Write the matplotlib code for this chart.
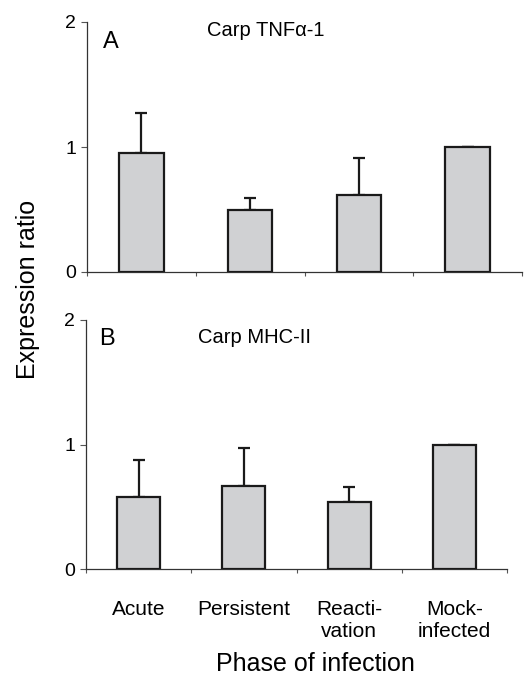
"""Carp TNFa-1 / MHC-II expression ratio by phase of infection."""
import numpy as np
import matplotlib; matplotlib.use("Agg")
import matplotlib.pyplot as plt

plt.rcParams["font.family"] = ["Liberation Sans", "DejaVu Sans"]

phases = ["Acute", "Persistent", "Reacti-\nvation", "Mock-\ninfected"]
tnf_mean = [0.95, 0.50, 0.62, 1.00]
tnf_err = [0.32, 0.09, 0.29, 0.0]
mhc_mean = [0.58, 0.67, 0.54, 1.00]
mhc_err = [0.295, 0.30, 0.12, 0.0]

fig = plt.figure(figsize=(5.28, 6.77), dpi=100)
ax_a = fig.add_axes([87/528, 1-272/677, 435/528, 250/677])
ax_b = fig.add_axes([86/528, 1-569/677, 421/528, 249/677])

x = np.arange(len(phases))
for ax, m, e in [(ax_a, tnf_mean, tnf_err), (ax_b, mhc_mean, mhc_err)]:
    ax.bar(x, m, width=0.41, color="#d0d1d3", edgecolor="#1a1a1a",
           linewidth=1.6, zorder=3)
    ax.errorbar(x, m, yerr=[np.zeros(len(m)), e], fmt="none",
                ecolor="#1a1a1a", elinewidth=1.6, capsize=4.3,
                capthick=1.6, zorder=2)
    ax.set_xlim(-0.5, 3.5); ax.set_ylim(0, 2)
    ax.set_yticks([0, 1, 2])
    ax.set_xticks(np.arange(-0.5, 4, 1), minor=True)
    ax.set_xticks(x)
    ax.tick_params(axis="x", which="major", length=0)
    ax.tick_params(axis="x", which="minor", length=3, width=0.8, color="#555")
    ax.tick_params(axis="y", length=4, width=0.8, color="#555",
                   labelsize=14, pad=4)
    for s in ["top", "right"]:
        ax.spines[s].set_visible(False)
    for s in ["left", "bottom"]:
        ax.spines[s].set_linewidth(0.9); ax.spines[s].set_color("#333")

ax_a.set_xticklabels([])
ax_b.set_xticklabels(phases, fontsize=15, linespacing=1.25)
ax_b.tick_params(axis="x", which="major", pad=22)

ax_a.text(0.036, 0.92, "A", transform=ax_a.transAxes, fontsize=17, va="center")
ax_a.text(0.41, 0.968, "Carp TNFα-1", transform=ax_a.transAxes,
          fontsize=14.5, va="center", ha="center")
ax_b.text(0.030, 0.925, "B", transform=ax_b.transAxes, fontsize=17, va="center")
ax_b.text(0.40, 0.93, "Carp MHC-II", transform=ax_b.transAxes,
          fontsize=14.5, va="center", ha="center")

fig.text(28/528, 1-289/677, "Expression ratio", rotation=90, fontsize=18,
         ha="center", va="center")
fig.text(315/528, 1-664/677, "Phase of infection", fontsize=18,
         ha="center", va="center")

fig.savefig("out.png", dpi=100)
